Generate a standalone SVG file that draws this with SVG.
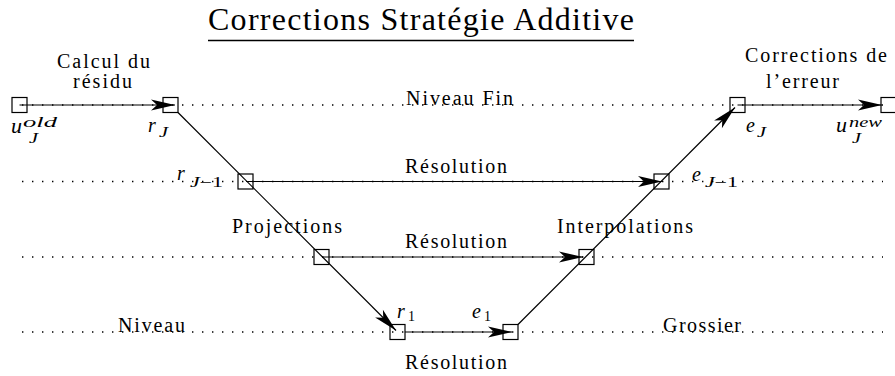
<svg xmlns="http://www.w3.org/2000/svg" width="895" height="376" viewBox="0 0 895 376">
<style>
text{font-family:"Liberation Serif","DejaVu Serif",serif;fill:#000}
.t{font-size:20px}
.m{font-style:italic;font-size:20px}
.s{font-style:italic;font-size:14px}
.su{font-size:14px}
.node{fill:none;stroke:#000;stroke-width:1.2}
.lvl{stroke:#000;stroke-width:1.3;stroke-dasharray:1.4 8.6;fill:none}
.con{stroke:#000;stroke-width:1.2;fill:none}
</style>
<defs>
<marker id="ah" markerUnits="userSpaceOnUse" viewBox="-25 -6 26 12" refX="0" refY="0" markerWidth="26" markerHeight="12" orient="auto" overflow="visible">
<path d="M0,0 L-24,-5.5 L-18,0 L-24,5.5 Z" fill="#000"/>
</marker>
</defs>
<g id="title">
<text x="208" y="30" style="font-size:32px" textLength="426">Corrections Stratégie Additive</text>
<line x1="208" y1="40.5" x2="634" y2="40.5" stroke="#000" stroke-width="1.3"/>
</g>
<g id="levels">
<line class="lvl" x1="22" y1="105" x2="883" y2="105"/>
<line class="lvl" x1="22" y1="181.5" x2="883" y2="181.5"/>
<line class="lvl" x1="22" y1="257" x2="883" y2="257"/>
<line class="lvl" x1="22" y1="332" x2="883" y2="332"/>
</g>
<g id="labels">
<text class="t" x="57" y="68" textLength="93">Calcul du</text>
<text class="t" x="73" y="88" textLength="59">résidu</text>
<text class="t" x="745" y="62" textLength="142">Corrections de</text>
<text class="t" x="766" y="88" textLength="73">l’erreur</text>
<text class="t" x="406" y="105" textLength="107">Niveau Fin</text>
<text class="t" x="405" y="173" textLength="102">Résolution</text>
<text class="t" x="405" y="248" textLength="102">Résolution</text>
<text class="t" x="405" y="369" textLength="102">Résolution</text>
<text class="t" x="232" y="233" textLength="110">Projections</text>
<text class="t" x="557" y="233" textLength="136">Interpolations</text>
<text class="t" x="118" y="332" textLength="67">Niveau</text>
<text class="t" x="663" y="332" textLength="78">Grossier</text>
</g>
<g id="connectors">
<line class="con" x1="19.5" y1="105" x2="175" y2="105" marker-end="url(#ah)"/>
<line class="con" x1="178" y1="112.5" x2="396" y2="330.5" marker-end="url(#ah)"/>
<line class="con" x1="246" y1="181.5" x2="662" y2="181.5" marker-end="url(#ah)"/>
<line class="con" x1="322" y1="257" x2="583" y2="257" marker-end="url(#ah)"/>
<line class="con" x1="405" y1="332" x2="512" y2="332" marker-end="url(#ah)"/>
<line class="con" x1="518" y1="324.5" x2="735" y2="107.5" marker-end="url(#ah)"/>
<line class="con" x1="737.5" y1="105" x2="882" y2="105" marker-end="url(#ah)"/>
</g>
<g id="n-uold">
<rect class="node" x="12" y="97.5" width="15" height="15"/>
<text class="m" x="11" y="133" textLength="11" lengthAdjust="spacingAndGlyphs">u</text>
<text class="s" x="23" y="126.5" textLength="34" lengthAdjust="spacingAndGlyphs">old</text>
<text class="s" x="29" y="142.5" textLength="9" lengthAdjust="spacingAndGlyphs">J</text>
</g>
<g id="n-rJ">
<rect class="node" x="163" y="97.5" width="15" height="15"/>
<text class="m" x="148" y="132">r</text>
<text class="s" x="159" y="137" textLength="9" lengthAdjust="spacingAndGlyphs">J</text>
</g>
<g id="n-rJ1">
<rect class="node" x="238" y="174" width="15" height="15"/>
<text class="m" x="177" y="180">r</text>
<text class="su" x="190" y="186.5" textLength="33" lengthAdjust="spacingAndGlyphs"><tspan font-style="italic">J</tspan>−1</text>
</g>
<g id="n-proj">
<rect class="node" x="314" y="249.5" width="15" height="15"/>
</g>
<g id="n-r1">
<rect class="node" x="390" y="324.5" width="15" height="15"/>
<text class="m" x="397" y="318">r</text>
<text class="su" x="408" y="321">1</text>
</g>
<g id="n-e1">
<rect class="node" x="503" y="324.5" width="15" height="15"/>
<text class="m" x="472" y="318">e</text>
<text class="su" x="484" y="321">1</text>
</g>
<g id="n-interp">
<rect class="node" x="579" y="249.5" width="15" height="15"/>
</g>
<g id="n-eJ1">
<rect class="node" x="654" y="174" width="15" height="15"/>
<text class="m" x="692" y="181">e</text>
<text class="su" x="705" y="187" textLength="33" lengthAdjust="spacingAndGlyphs"><tspan font-style="italic">J</tspan>−1</text>
</g>
<g id="n-eJ">
<rect class="node" x="730" y="97.5" width="15" height="15"/>
<text class="m" x="746" y="132">e</text>
<text class="s" x="757" y="137" textLength="9" lengthAdjust="spacingAndGlyphs">J</text>
</g>
<g id="n-unew">
<rect class="node" x="881" y="97.5" width="15" height="15"/>
<text class="m" x="836" y="132" textLength="11" lengthAdjust="spacingAndGlyphs">u</text>
<text class="s" x="849" y="126.5" textLength="33" lengthAdjust="spacingAndGlyphs">new</text>
<text class="s" x="852" y="143" textLength="9" lengthAdjust="spacingAndGlyphs">J</text>
</g>
</svg>
